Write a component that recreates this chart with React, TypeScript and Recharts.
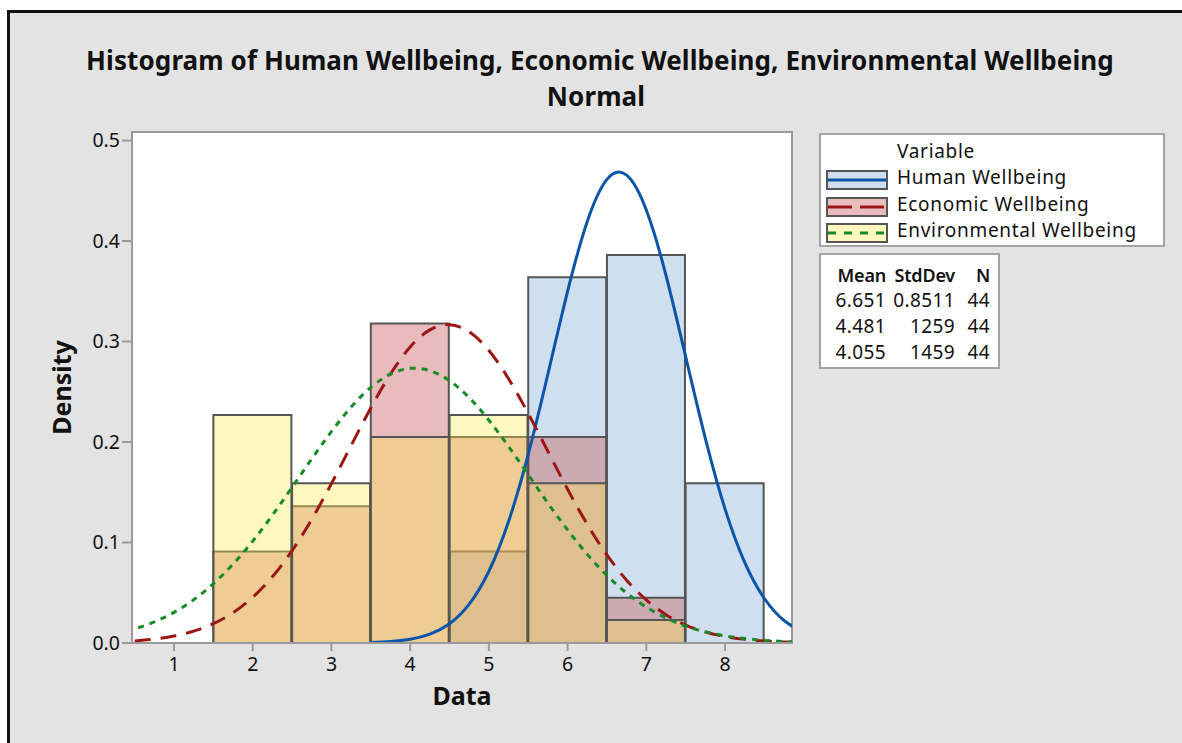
import React from "react";
import {
  Bar,
  ComposedChart,
  Label,
  Line,
  ReferenceArea,
  XAxis,
  YAxis,
  CartesianGrid,
} from "recharts";

const FONT = '"Noto Sans", "Open Sans", sans-serif';

// histogram bins (bin centres, width 1)
const binCenters = [2, 3, 4, 5, 6, 7, 8];
const humanDensity = [null, null, null, 0.091, 0.364, 0.386, 0.159];
const economicDensity = [0.091, 0.136, 0.318, 0.205, 0.205, 0.045, null];
const environmentalDensity = [0.227, 0.159, 0.205, 0.227, 0.159, 0.023, null];

// fitted normal curves, every 0.25
const curveX = [
  0.25, 0.5, 0.75, 1, 1.25, 1.5, 1.75, 2, 2.25, 2.5, 2.75, 3, 3.25, 3.5, 3.75,
  4, 4.25, 4.5, 4.75, 5, 5.25, 5.5, 5.75, 6, 6.25, 6.5, 6.75, 7, 7.25, 7.5,
  7.75, 8, 8.25, 8.5, 8.75, 9,
];
const humanFit = [
  null, null, null, null, null, null, null, null, null, null, null, null, null,
  0.0005, 0.0014, 0.0037, 0.0088, 0.0192, 0.0387, 0.0714, 0.1209, 0.1878,
  0.2677, 0.3499, 0.4195, 0.4614, 0.4656, 0.4309, 0.3659, 0.285, 0.2037,
  0.1335, 0.0803, 0.0443, 0.0224, 0.0104,
];
const economicFit = [
  null, 0.0021, 0.0039, 0.0069, 0.0118, 0.0192, 0.0301, 0.0455, 0.0659, 0.0919,
  0.1231, 0.1586, 0.1965, 0.2339, 0.2677, 0.2946, 0.3116, 0.3168, 0.3097,
  0.2911, 0.263, 0.2284, 0.1907, 0.153, 0.1181, 0.0876, 0.0625, 0.0428, 0.0282,
  0.0179, 0.0109, 0.0064, 0.0036, 0.0019, 0.001, 0.0005,
];
const environmentalFit = [
  0.0091, 0.0141, 0.021, 0.0305, 0.0431, 0.059, 0.0785, 0.1014, 0.1272, 0.155,
  0.1833, 0.2105, 0.2348, 0.2544, 0.2675, 0.2733, 0.271, 0.261, 0.2441, 0.2217,
  0.1955, 0.1675, 0.1392, 0.1125, 0.0882, 0.0672, 0.0497, 0.0357, 0.0249,
  0.0168, 0.0111, 0.0071, 0.0044, 0.0026, 0.0015, 0.0009,
];

const seriesNames = ["Human Wellbeing", "Economic Wellbeing", "Environmental Wellbeing"];
const means = ["6.651", "4.481", "4.055"];
const stdevs = ["0.8511", "1259", "1459"];
const counts = ["44", "44", "44"];

const xTicks = [1, 2, 3, 4, 5, 6, 7, 8];
const yTicks = [0, 0.1, 0.2, 0.3, 0.4, 0.5];
const xDomain = [0.466, 8.851];
const yDomain = [0, 0.5085];

const swatches = [
  { fill: "#d0dff0", line: "#0b55a8", dash: undefined },
  { fill: "#e8bcbc", line: "#9c1616", dash: "24 8" },
  { fill: "#fff6c0", line: "#178a28", dash: "8 8" },
];

const binRows = binCenters.map((x, i) => ({
  x,
  human: humanDensity[i],
  economic: economicDensity[i],
  environmental: environmentalDensity[i],
}));

const curveRows = curveX.map((x, i) => ({
  x,
  human: humanFit[i],
  economic: economicFit[i],
  environmental: environmentalFit[i],
}));

const tickStyle = { fill: "#111", fontSize: 19.5, fontFamily: FONT };
const axisLine = { stroke: "#9a9a9a", strokeWidth: 2 };

export default function App() {
  return (
    <div
      style={{
        position: "absolute",
        left: 0,
        top: 0,
        width: 1182,
        height: 743,
        background: "#fff",
        overflow: "hidden",
        fontFamily: FONT,
        color: "#111",
      }}
    >
      <div
        style={{
          position: "absolute",
          left: 7,
          top: 10,
          width: 1200,
          height: 760,
          borderLeft: "3px solid #111",
          borderTop: "3px solid #111",
          background: "#e3e3e3",
        }}
      />
      <div
        style={{
          position: "absolute",
          left: 0,
          top: 42,
          width: 1200,
          textAlign: "center",
          fontWeight: 700,
          fontSize: 26,
          lineHeight: "36px",
          letterSpacing: 0.1,
        }}
      >
        <div>
          Histogram of Human Wellbeing, Economic Wellbeing, Environmental Wellbeing
        </div>
        <div style={{ marginRight: 8 }}>Normal</div>
      </div>

      <div style={{ position: "absolute", left: 0, top: 0 }}>
        <ComposedChart
          width={800}
          height={743}
          data={binRows}
          margin={{ top: 132, right: 8, bottom: 70, left: 0 }}
          barGap={-78}
          barCategoryGap={0}
        >
          <CartesianGrid
            xAxisId="bins"
            fill="#fff"
            horizontal={false}
            vertical={false}
          />
          <XAxis
            xAxisId="bins"
            dataKey="x"
            type="number"
            domain={xDomain}
            ticks={xTicks}
            allowDataOverflow
            height={30}
            tickSize={8}
            tickMargin={6}
            tick={tickStyle}
            tickLine={{ stroke: "#9a9a9a", strokeWidth: 2 }}
            axisLine={axisLine}
          >
            <Label
              value="Data"
              position="bottom"
              offset={14}
              style={{ fontSize: 25, fontWeight: 700, fill: "#111", fontFamily: FONT }}
            />
          </XAxis>
          <XAxis
            xAxisId="curve"
            dataKey="x"
            type="number"
            domain={xDomain}
            allowDataOverflow
            hide
          />
          <YAxis
            type="number"
            domain={yDomain}
            ticks={yTicks}
            allowDataOverflow
            width={132}
            tickSize={10}
            tickMargin={2}
            tick={tickStyle}
            tickLine={{ stroke: "#9a9a9a", strokeWidth: 2 }}
            axisLine={axisLine}
            tickFormatter={(v: number) => v.toFixed(1)}
          >
            <Label
              value="Density"
              angle={-90}
              position="center"
              dx={-4}
              style={{ fontSize: 25, fontWeight: 700, fill: "#111", fontFamily: FONT, textAnchor: "middle" }}
            />
          </YAxis>

          <Bar
            xAxisId="bins"
            dataKey="human"
            fill="#d0dff0"
            stroke="#555"
            strokeWidth={2}
            isAnimationActive={false}
          />
          <Bar
            xAxisId="bins"
            dataKey="economic"
            fill="#c55858"
            fillOpacity={0.4}
            stroke="#555"
            strokeWidth={2}
            isAnimationActive={false}
          />
          <Bar
            xAxisId="bins"
            dataKey="environmental"
            fill="#ffe950"
            fillOpacity={0.36}
            stroke="#555"
            strokeWidth={2}
            isAnimationActive={false}
          />

          <ReferenceArea
            xAxisId="curve"
            x1={xDomain[0]}
            x2={xDomain[1]}
            y1={yDomain[0]}
            y2={yDomain[1]}
            fill="none"
            stroke="#9a9a9a"
            strokeWidth={2}
          />

          <Line
            xAxisId="curve"
            data={curveRows}
            dataKey="human"
            type="natural"
            stroke={swatches[0].line}
            strokeWidth={3}
            dot={false}
            activeDot={false}
            isAnimationActive={false}
          />
          <Line
            xAxisId="curve"
            data={curveRows}
            dataKey="economic"
            type="natural"
            stroke={swatches[1].line}
            strokeWidth={3}
            strokeDasharray="16 10"
            dot={false}
            activeDot={false}
            isAnimationActive={false}
          />
          <Line
            xAxisId="curve"
            data={curveRows}
            dataKey="environmental"
            type="natural"
            stroke={swatches[2].line}
            strokeWidth={3}
            strokeDasharray="6 6"
            dot={false}
            activeDot={false}
            isAnimationActive={false}
          />
        </ComposedChart>
      </div>

      {/* legend */}
      <div
        style={{
          position: "absolute",
          left: 819,
          top: 133,
          width: 342,
          height: 110,
          background: "#fff",
          border: "2px solid #a3a3a3",
          fontSize: 19,
          letterSpacing: 0.7,
        }}
      >
        <div style={{ position: "absolute", left: 76, top: 4, lineHeight: "24px" }}>
          Variable
        </div>
        {seriesNames.map((name, i) => (
          <div key={name}>
            <svg
              width={62}
              height={20}
              style={{ position: "absolute", left: 5, top: 35 + i * 26.5 }}
            >
              <rect x={1} y={1} width={60} height={18} fill={swatches[i].fill} stroke="#555" strokeWidth={2} />
              <line
                x1={2}
                x2={60}
                y1={10}
                y2={10}
                stroke={swatches[i].line}
                strokeWidth={3}
                strokeDasharray={swatches[i].dash}
              />
            </svg>
            <div
              style={{
                position: "absolute",
                left: 76,
                top: 30 + i * 26.5,
                lineHeight: "24px",
                whiteSpace: "nowrap",
              }}
            >
              {name}
            </div>
          </div>
        ))}
      </div>

      {/* summary table */}
      <div
        style={{
          position: "absolute",
          left: 819,
          top: 253,
          width: 177,
          height: 112,
          background: "#fff",
          border: "2px solid #a3a3a3",
          fontSize: 19,
          letterSpacing: 0.4,
        }}
      >
        {[["Mean", "StdDev", "N"], ...means.map((m, i) => [m, stdevs[i], counts[i]])].map(
          (row, r) => (
            <div
              key={r}
              style={{
                position: "absolute",
                top: (r === 0 ? 8 : 6.5 + r * 26.3),
                left: 0,
                width: 177,
                lineHeight: "24px",
                fontWeight: r === 0 ? 600 : 400,
                fontSize: r === 0 ? 18 : 19,
                letterSpacing: r === 0 ? -0.2 : 0.4,
              }}
            >
              {row.map((cell, c) => (
                <span
                  key={c}
                  style={{
                    position: "absolute",
                    right: [112, 43, 8][c],
                    whiteSpace: "nowrap",
                  }}
                >
                  {cell}
                </span>
              ))}
            </div>
          ),
        )}
      </div>
    </div>
  );
}
